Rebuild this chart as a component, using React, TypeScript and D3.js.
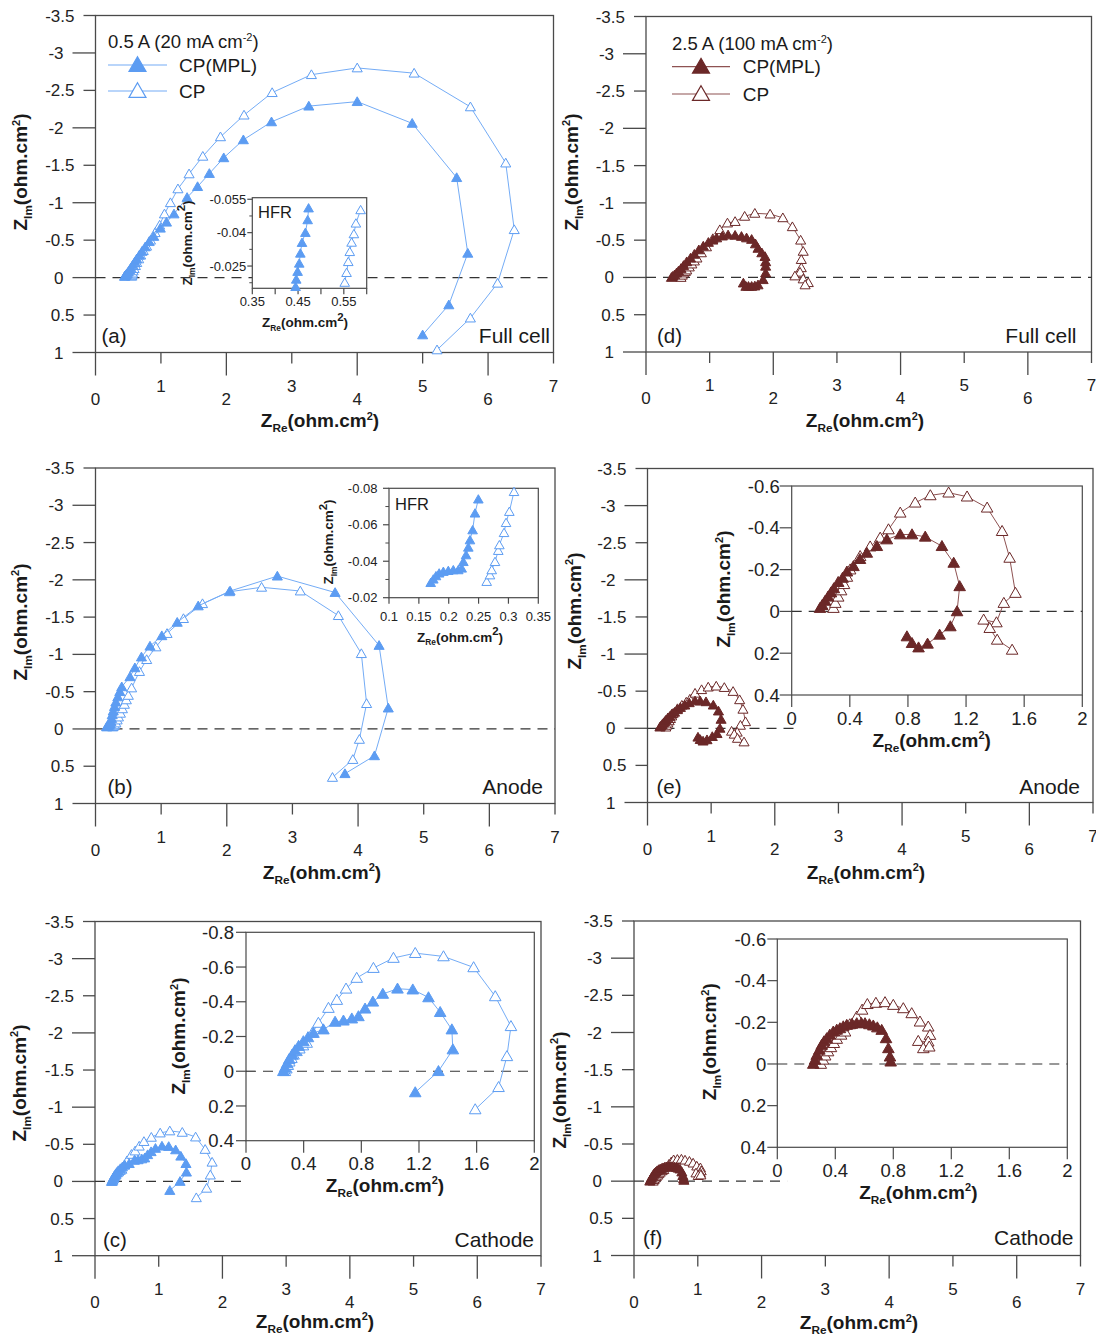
import React from 'react';
import * as d3 from 'd3';

type Pt = [number, number];

// Nyquist spectra, [Z_Re, Z_Im] in ohm·cm², ordered from high to low frequency.

// 0.5 A, full cell
const fullCell05MPL: Pt[] = [
  [0.445, -0.016], [0.45, -0.022], [0.46, -0.03], [0.47, -0.04], [0.485, -0.055], [0.5, -0.075],
  [0.52, -0.1], [0.54, -0.13], [0.57, -0.17], [0.6, -0.21], [0.63, -0.25], [0.67, -0.3],
  [0.71, -0.35], [0.76, -0.41], [0.82, -0.48], [0.89, -0.55], [0.99, -0.66], [1.085, -0.74],
  [1.2, -0.85], [1.4, -1.07], [1.56, -1.215], [1.74, -1.39], [1.96, -1.6], [2.26, -1.84],
  [2.69, -2.08], [3.26, -2.29], [4.0, -2.35], [4.84, -2.06], [5.52, -1.335], [5.69, -0.325],
  [5.4, 0.364], [5.0, 0.765],
];
const fullCell05CP: Pt[] = [
  [0.552, -0.018], [0.555, -0.03], [0.56, -0.045], [0.565, -0.06], [0.575, -0.09], [0.59, -0.12],
  [0.61, -0.16], [0.63, -0.2], [0.66, -0.25], [0.69, -0.3], [0.73, -0.36], [0.78, -0.42],
  [0.84, -0.5], [0.91, -0.6], [0.98, -0.7], [1.054, -0.85], [1.145, -1.0], [1.26, -1.185],
  [1.43, -1.385], [1.64, -1.62], [1.91, -1.88], [2.27, -2.17], [2.7, -2.47], [3.3, -2.71],
  [4.0, -2.8], [4.87, -2.73], [5.73, -2.28], [6.27, -1.53], [6.4, -0.64], [6.145, 0.075],
  [5.73, 0.54], [5.22, 0.965],
];
const hfrFull05MPL: Pt[] = [
  [0.4446, -0.0157], [0.446, -0.019], [0.449, -0.0225], [0.4526, -0.0262], [0.455, -0.0307],
  [0.4586, -0.0355], [0.466, -0.04], [0.471, -0.0457], [0.473, -0.051],
];
const hfrFull05CP: Pt[] = [
  [0.552, -0.0176], [0.556, -0.022], [0.5597, -0.0269], [0.563, -0.0314], [0.567, -0.0356],
  [0.572, -0.0394], [0.5764, -0.0442], [0.5867, -0.0502],
];

// 0.5 A, anode
const anode05MPL: Pt[] = [
  [0.17, -0.028], [0.175, -0.03], [0.19, -0.035], [0.21, -0.05], [0.225, -0.07], [0.235, -0.1],
  [0.245, -0.14], [0.255, -0.19], [0.27, -0.24], [0.29, -0.3], [0.31, -0.36], [0.34, -0.43],
  [0.37, -0.5], [0.4, -0.565], [0.525, -0.7], [0.6, -0.82], [0.7, -0.965], [0.83, -1.11],
  [1.01, -1.25], [1.245, -1.43], [1.565, -1.65], [2.05, -1.85], [2.77, -2.05], [3.65, -1.83],
  [4.32, -1.12], [4.46, -0.28], [4.25, 0.36], [3.8, 0.6],
];
const anode05CP: Pt[] = [
  [0.26, -0.028], [0.265, -0.03], [0.275, -0.04], [0.29, -0.055], [0.31, -0.08], [0.33, -0.12],
  [0.35, -0.16], [0.38, -0.21], [0.41, -0.27], [0.44, -0.33], [0.47, -0.39], [0.5, -0.45],
  [0.55, -0.55], [0.67, -0.77], [0.78, -0.93], [0.92, -1.1], [1.09, -1.28], [1.34, -1.48],
  [1.63, -1.68], [2.04, -1.84], [2.53, -1.9], [3.12, -1.85], [3.7, -1.52], [4.05, -1.01],
  [4.13, -0.34], [4.02, 0.14], [3.92, 0.41], [3.61, 0.65],
];
const hfrAnode05MPL: Pt[] = [
  [0.1698, -0.0282], [0.1742, -0.0301], [0.1787, -0.0319], [0.184, -0.0334], [0.191, -0.0343],
  [0.1993, -0.0348], [0.2077, -0.0352], [0.216, -0.0352], [0.2217, -0.0361], [0.2245, -0.0397],
  [0.229, -0.0434], [0.2328, -0.0476], [0.2356, -0.0516], [0.24, -0.0571], [0.244, -0.0663],
  [0.2496, -0.074],
];
const hfrAnode05CP: Pt[] = [
  [0.2636, -0.0288], [0.2691, -0.0324], [0.272, -0.0352], [0.2775, -0.0397], [0.283, -0.0458],
  [0.2848, -0.0489], [0.2926, -0.0556], [0.296, -0.0611], [0.3015, -0.0672], [0.3093, -0.0781],
];

// 0.5 A, cathode
const cathode05MPL: Pt[] = [
  [0.259, 0.0], [0.27, -0.02], [0.285, -0.045], [0.3, -0.07], [0.32, -0.095], [0.34, -0.12],
  [0.365, -0.145], [0.398, -0.172], [0.43, -0.195], [0.468, -0.22], [0.537, -0.24], [0.618, -0.284],
  [0.676, -0.291], [0.734, -0.303], [0.78, -0.316], [0.826, -0.36], [0.88, -0.4], [0.949, -0.445],
  [1.051, -0.475], [1.157, -0.47], [1.266, -0.425], [1.347, -0.34], [1.428, -0.24], [1.435, -0.125],
  [1.335, 0.0], [1.174, 0.122],
];
const cathode05CP: Pt[] = [
  [0.27, 0.0], [0.28, -0.015], [0.29, -0.035], [0.3, -0.055], [0.315, -0.075], [0.33, -0.095],
  [0.35, -0.115], [0.37, -0.13], [0.395, -0.148], [0.421, -0.163], [0.46, -0.22], [0.502, -0.278],
  [0.572, -0.364], [0.63, -0.41], [0.694, -0.475], [0.768, -0.537], [0.884, -0.594], [1.023, -0.652],
  [1.174, -0.68], [1.37, -0.661], [1.579, -0.598], [1.729, -0.431], [1.838, -0.259], [1.81, -0.086],
  [1.752, 0.092], [1.59, 0.22],
];

// 2.5 A, full cell
const fullCell25MPL: Pt[] = [
  [0.4, 0.0], [0.42, -0.015], [0.45, -0.035], [0.48, -0.06], [0.51, -0.085], [0.55, -0.12],
  [0.59, -0.16], [0.64, -0.21], [0.7, -0.26], [0.76, -0.31], [0.83, -0.37], [0.9, -0.42],
  [0.98, -0.47], [1.05, -0.5], [1.11, -0.53], [1.2, -0.555], [1.29, -0.57], [1.4, -0.565],
  [1.5, -0.55], [1.58, -0.53], [1.66, -0.51], [1.72, -0.45], [1.76, -0.39], [1.82, -0.33],
  [1.87, -0.28], [1.88, -0.21], [1.88, -0.15], [1.88, -0.06], [1.84, 0.03], [1.76, 0.1],
  [1.71, 0.115], [1.66, 0.12], [1.61, 0.12], [1.57, 0.12], [1.53, 0.075],
];
const fullCell25CP: Pt[] = [
  [0.55, 0.0], [0.57, -0.03], [0.59, -0.06], [0.62, -0.08], [0.64, -0.1], [0.68, -0.14],
  [0.72, -0.18], [0.76, -0.22], [0.8, -0.26], [0.87, -0.33], [0.95, -0.41], [1.05, -0.52],
  [1.16, -0.64], [1.28, -0.73], [1.4, -0.75], [1.55, -0.82], [1.71, -0.86], [1.95, -0.85],
  [2.15, -0.8], [2.3, -0.68], [2.43, -0.5], [2.47, -0.35], [2.44, -0.24], [2.44, -0.13],
  [2.42, -0.07], [2.34, -0.02], [2.47, 0.02], [2.55, 0.07], [2.5, 0.1],
];

// 2.5 A, anode
const anode25MPL: Pt[] = [
  [0.195, -0.016], [0.21, -0.03], [0.23, -0.05], [0.25, -0.07], [0.27, -0.09], [0.29, -0.11],
  [0.32, -0.14], [0.35, -0.16], [0.38, -0.19], [0.425, -0.216], [0.47, -0.25], [0.517, -0.28],
  [0.586, -0.312], [0.655, -0.344], [0.747, -0.368], [0.828, -0.368], [0.919, -0.357], [1.034, -0.312],
  [1.115, -0.232], [1.156, -0.12], [1.138, 0.0], [1.092, 0.072], [1.018, 0.112], [0.935, 0.155],
  [0.873, 0.173], [0.828, 0.152], [0.793, 0.12],
];
const anode25CP: Pt[] = [
  [0.287, -0.016], [0.3, -0.04], [0.32, -0.07], [0.34, -0.1], [0.36, -0.13], [0.38, -0.165],
  [0.402, -0.2], [0.471, -0.264], [0.54, -0.31], [0.609, -0.352], [0.666, -0.392], [0.747, -0.472],
  [0.85, -0.52], [0.954, -0.555], [1.08, -0.568], [1.207, -0.549], [1.345, -0.496], [1.448, -0.384],
  [1.5, -0.256], [1.54, -0.088], [1.46, -0.04], [1.409, 0.053], [1.321, 0.04], [1.363, 0.08],
  [1.414, 0.136], [1.517, 0.184],
];

// 2.5 A, cathode
const cathode25MPL: Pt[] = [
  [0.248, 0.0], [0.26, -0.02], [0.272, -0.043], [0.29, -0.068], [0.306, -0.091], [0.322, -0.108],
  [0.341, -0.123], [0.362, -0.14], [0.386, -0.155], [0.41, -0.164], [0.432, -0.171], [0.455, -0.18],
  [0.479, -0.187], [0.515, -0.192], [0.548, -0.195], [0.58, -0.196], [0.605, -0.195], [0.635, -0.19],
  [0.662, -0.184], [0.69, -0.175], [0.72, -0.163], [0.75, -0.123], [0.766, -0.075], [0.777, -0.035],
  [0.782, -0.011],
];
const cathode25CP: Pt[] = [
  [0.3, 0.0], [0.315, -0.02], [0.33, -0.04], [0.35, -0.06], [0.37, -0.08], [0.39, -0.1],
  [0.41, -0.12], [0.44, -0.14], [0.467, -0.155], [0.5, -0.19], [0.548, -0.227], [0.585, -0.26],
  [0.621, -0.287], [0.68, -0.293], [0.743, -0.296], [0.8, -0.283], [0.869, -0.267], [0.927, -0.243],
  [0.984, -0.203], [1.041, -0.179], [1.053, -0.139], [1.041, -0.107], [0.972, -0.11], [1.007, -0.075],
  [1.048, -0.083],
];

// Axis ticks
const mainXTicks = [0, 1, 2, 3, 4, 5, 6, 7];
const mainYTicks = [-3.5, -3, -2.5, -2, -1.5, -1, -0.5, 0, 0.5, 1];
const hfrFullXTicks = [0.35, 0.4, 0.45, 0.5, 0.55, 0.6];
const hfrFullXLabels = ['0.35', '', '0.45', '', '0.55', ''];
const hfrFullYTicks = [-0.055, -0.04, -0.025];
const hfrFullYLabels = ['-0.055', '-0.04', '-0.025'];
const hfrFullYMinor = [-0.0475, -0.0325, -0.0175];
const hfrAnodeXTicks = [0.1, 0.15, 0.2, 0.25, 0.3, 0.35];
const hfrAnodeXLabels = ['0.1', '0.15', '0.2', '0.25', '0.3', '0.35'];
const hfrAnodeYTicks = [-0.08, -0.06, -0.04, -0.02];
const hfrAnodeYLabels = ['-0.08', '-0.06', '-0.04', '-0.02'];
const hfrAnodeYMinor = [-0.07, -0.05, -0.03];
const zoomXTicks = [0, 0.4, 0.8, 1.2, 1.6, 2];
const zoomXLabels = ['0', '0.4', '0.8', '1.2', '1.6', '2'];
const zoomYTicks08 = [-0.8, -0.6, -0.4, -0.2, 0, 0.2, 0.4];
const zoomYLabels08 = ['-0.8', '-0.6', '-0.4', '-0.2', '0', '0.2', '0.4'];
const zoomYTicks06 = [-0.6, -0.4, -0.2, 0, 0.2, 0.4];
const zoomYLabels06 = ['-0.6', '-0.4', '-0.2', '0', '0.2', '0.4'];

const FONT = '"Liberation Sans", Arial, Helvetica, sans-serif';
const BLUE = { marker: '#5c9cf2', line: '#74acf6' };
const BROWN = { marker: '#6b2828', line: '#8e5252' };
const AXIS = '#4a4a4a';

type Frame = { x0: number; y0: number; x1: number; y1: number };
type Colors = { marker: string; line: string };

function Series({ data, x, y, color, filled, size }: {
  data: Pt[]; x: d3.ScaleLinear<number, number>; y: d3.ScaleLinear<number, number>;
  color: Colors; filled: boolean; size: number;
}) {
  const line = d3.line<Pt>().x((d) => x(d[0])).y((d) => y(d[1]));
  const sym = d3.symbol().type(d3.symbolTriangle).size(size)() as string;
  return (
    <g>
      <path d={line(data) ?? ''} fill="none" stroke={color.line} strokeWidth={1} />
      {data.map((d, i) => (
        <path key={i} d={sym} transform={`translate(${x(d[0])},${y(d[1]) + 1})`}
          fill={filled ? color.marker : '#fff'} stroke={color.marker} strokeWidth={1} />
      ))}
    </g>
  );
}

// "Z_sub(ohm.cm²)" axis title
function ZTitle({ x, y, sub, size, vertical, bigSup }: {
  x: number; y: number; sub: string; size: number; vertical?: boolean; bigSup?: boolean;
}) {
  const subSize = size * 0.62;
  const supSize = bigSup ? size * 0.85 : size * 0.58;
  const subDy = size * 0.27;
  const supDy = bigSup ? size * 0.45 : size * 0.4;
  const bx = vertical ? x + size * 0.36 : x;
  const by = vertical ? y : y + size * 0.36;
  return (
    <text x={bx} y={by} fontFamily={FONT} fontWeight="bold" fontSize={size} textAnchor="middle"
      fill="#1a1a1a" transform={vertical ? `rotate(-90 ${bx} ${by})` : undefined}>
      <tspan>Z</tspan>
      <tspan fontSize={subSize} dy={subDy}>{sub}</tspan>
      <tspan fontSize={size} dy={-subDy}>(ohm.cm</tspan>
      <tspan fontSize={supSize} dy={-supDy}>2</tspan>
      <tspan fontSize={size} dy={supDy}>)</tspan>
    </text>
  );
}

type InsetCfg = {
  frame: Frame; xDomain: [number, number]; yDomain: [number, number];
  xTicks: number[]; xLabels: string[]; yTicks: number[]; yLabels: string[]; yMinor?: number[];
  yTickLen: number; xTickLen: number; yLabelGap: number; xLabelDy: number;
  tickFont: number; titleFont: number; yTitle: [number, number]; xTitle: [number, number];
  bigSup?: boolean; zero?: boolean; hfr?: [number, number]; markerSize: number;
  mpl: Pt[]; cp: Pt[];
};

function Inset({ cfg, color }: { cfg: InsetCfg; color: Colors }) {
  const f = cfg.frame;
  const x = d3.scaleLinear().domain(cfg.xDomain).range([f.x0, f.x1]);
  const y = d3.scaleLinear().domain(cfg.yDomain).range([f.y0, f.y1]);
  return (
    <g>
      <rect x={f.x0} y={f.y0} width={f.x1 - f.x0} height={f.y1 - f.y0} fill="#fff" stroke={AXIS} strokeWidth={1.2} />
      {cfg.yTicks.map((v, i) => (
        <g key={'y' + i}>
          <line x1={f.x0 - cfg.yTickLen} x2={f.x0} y1={y(v)} y2={y(v)} stroke={AXIS} strokeWidth={1.2} />
          <text x={f.x0 - cfg.yLabelGap} y={y(v) + cfg.tickFont * 0.36} fontFamily={FONT} fontSize={cfg.tickFont}
            textAnchor="end" fill="#222">{cfg.yLabels[i]}</text>
        </g>
      ))}
      {(cfg.yMinor ?? []).map((v, i) => (
        <line key={'ym' + i} x1={f.x0 - cfg.yTickLen * 0.6} x2={f.x0} y1={y(v)} y2={y(v)} stroke={AXIS} strokeWidth={1} />
      ))}
      {cfg.xTicks.map((v, i) => (
        <g key={'x' + i}>
          <line x1={x(v)} x2={x(v)} y1={f.y1} y2={f.y1 + cfg.xTickLen} stroke={AXIS} strokeWidth={1.2} />
          <text x={x(v)} y={f.y1 + cfg.xLabelDy + cfg.tickFont * 0.36} fontFamily={FONT} fontSize={cfg.tickFont}
            textAnchor="middle" fill="#222">{cfg.xLabels[i]}</text>
        </g>
      ))}
      {cfg.zero && (
        <line x1={f.x0} x2={f.x1} y1={y(0)} y2={y(0)} stroke="#333" strokeWidth={1.2} strokeDasharray="10,7" />
      )}
      <Series data={cfg.cp} x={x} y={y} color={color} filled={false} size={cfg.markerSize} />
      <Series data={cfg.mpl} x={x} y={y} color={color} filled={true} size={cfg.markerSize} />
      {cfg.hfr && (
        <text x={cfg.hfr[0]} y={cfg.hfr[1] + 6} fontFamily={FONT} fontSize={16.5} fill="#1a1a1a">HFR</text>
      )}
      <ZTitle x={cfg.yTitle[0]} y={cfg.yTitle[1]} sub="Im" size={cfg.titleFont} vertical bigSup={cfg.bigSup} />
      <ZTitle x={cfg.xTitle[0]} y={cfg.xTitle[1]} sub="Re" size={cfg.titleFont} bigSup={cfg.bigSup} />
    </g>
  );
}

type LegendCfg = {
  x: number; y: number; text: string; rows: [number, number]; lineX: [number, number]; textX: number;
};

type PanelCfg = {
  frame: Frame; color: Colors; mpl: Pt[]; cp: Pt[]; tag: string; name: string;
  tagDx: number; nameDx: number; labelDy: number; zeroEnd: number;
  yTitle: [number, number]; xTitle: [number, number]; legend?: LegendCfg; inset?: InsetCfg;
};

function Legend({ cfg, color }: { cfg: LegendCfg; color: Colors }) {
  const sym = d3.symbol().type(d3.symbolTriangle).size(125)() as string;
  const mid = (cfg.lineX[0] + cfg.lineX[1]) / 2;
  return (
    <g fontFamily={FONT} fill="#1a1a1a">
      <text x={cfg.x} y={cfg.y + 6.5} fontSize={18.5}>
        <tspan>{cfg.text}</tspan>
        <tspan fontSize={11} dy={-7}>-2</tspan>
        <tspan fontSize={18.5} dy={7}>)</tspan>
      </text>
      {['CP(MPL)', 'CP'].map((t, i) => (
        <g key={t}>
          <line x1={cfg.lineX[0]} x2={cfg.lineX[1]} y1={cfg.rows[i]} y2={cfg.rows[i]} stroke={color.line} strokeWidth={1.2} />
          <path d={sym} transform={`translate(${mid},${cfg.rows[i] + 1.5})`} fill={i === 0 ? color.marker : '#fff'}
            stroke={color.marker} strokeWidth={1.2} />
          <text x={cfg.textX} y={cfg.rows[i] + 6.5} fontSize={19}>{t}</text>
        </g>
      ))}
    </g>
  );
}

function Panel({ cfg }: { cfg: PanelCfg }) {
  const f = cfg.frame;
  const x = d3.scaleLinear().domain([0, 7]).range([f.x0, f.x1]);
  const y = d3.scaleLinear().domain([-3.5, 1]).range([f.y0, f.y1]);
  return (
    <g>
      <rect x={f.x0} y={f.y0} width={f.x1 - f.x0} height={f.y1 - f.y0} fill="none" stroke={AXIS} strokeWidth={1.3} />
      {mainYTicks.map((v) => {
        const len = Number.isInteger(v) ? 23 : 12;
        return (
          <g key={'y' + v}>
            <line x1={f.x0 - len} x2={f.x0} y1={y(v)} y2={y(v)} stroke={AXIS} strokeWidth={1.3} />
            <text x={f.x0 - len - 9} y={y(v) + 6} fontFamily={FONT} fontSize={17} textAnchor="end" fill="#222">{String(v)}</text>
          </g>
        );
      })}
      {mainXTicks.map((v) => {
        const even = v % 2 === 0;
        return (
          <g key={'x' + v}>
            <line x1={x(v)} x2={x(v)} y1={f.y1} y2={f.y1 + (even ? 23 : 11)} stroke={AXIS} strokeWidth={1.3} />
            <text x={x(v)} y={f.y1 + (even ? 46 : 33) + 6} fontFamily={FONT} fontSize={17} textAnchor="middle" fill="#222">{String(v)}</text>
          </g>
        );
      })}
      <line x1={x(0)} x2={x(cfg.zeroEnd)} y1={y(0)} y2={y(0)} stroke="#333" strokeWidth={1.2} strokeDasharray="10,7" />
      <Series data={cfg.cp} x={x} y={y} color={cfg.color} filled={false} size={44} />
      <Series data={cfg.mpl} x={x} y={y} color={cfg.color} filled={true} size={44} />
      <text x={f.x0 + cfg.tagDx} y={f.y1 - cfg.labelDy + 7} fontFamily={FONT} fontSize={20.5} fill="#1a1a1a">{cfg.tag}</text>
      <text x={f.x1 - cfg.nameDx} y={f.y1 - cfg.labelDy + 7} fontFamily={FONT} fontSize={21} textAnchor="end" fill="#1a1a1a">{cfg.name}</text>
      {cfg.legend && <Legend cfg={cfg.legend} color={cfg.color} />}
      {cfg.inset && <Inset cfg={cfg.inset} color={cfg.color} />}
      <ZTitle x={cfg.yTitle[0]} y={cfg.yTitle[1]} sub="Im" size={19} vertical />
      <ZTitle x={cfg.xTitle[0]} y={cfg.xTitle[1]} sub="Re" size={19} />
    </g>
  );
}

const insetA: InsetCfg = {
  frame: { x0: 252.3, y0: 197.7, x1: 366.7, y1: 288.3 }, xDomain: [0.35, 0.6], yDomain: [-0.0557, -0.015],
  xTicks: hfrFullXTicks, xLabels: hfrFullXLabels, yTicks: hfrFullYTicks, yLabels: hfrFullYLabels, yMinor: hfrFullYMinor,
  yTickLen: 5, xTickLen: 6, yLabelGap: 6, xLabelDy: 13.4, tickFont: 13, titleFont: 13.5,
  yTitle: [186.7, 243], xTitle: [305, 322], bigSup: true, hfr: [258, 212], markerSize: 40,
  mpl: hfrFull05MPL, cp: hfrFull05CP,
};
const insetB: InsetCfg = {
  frame: { x0: 389, y0: 488.3, x1: 538.3, y1: 597.7 }, xDomain: [0.1, 0.35], yDomain: [-0.08, -0.02],
  xTicks: hfrAnodeXTicks, xLabels: hfrAnodeXLabels, yTicks: hfrAnodeYTicks, yLabels: hfrAnodeYLabels, yMinor: hfrAnodeYMinor,
  yTickLen: 6, xTickLen: 6, yLabelGap: 11.5, xLabelDy: 19, tickFont: 13, titleFont: 13.5,
  yTitle: [328, 542], xTitle: [460, 636.7], bigSup: true, hfr: [395, 504], markerSize: 40,
  mpl: hfrAnode05MPL, cp: hfrAnode05CP,
};
const insetC: InsetCfg = {
  frame: { x0: 246, y0: 932.3, x1: 534.3, y1: 1140.7 }, xDomain: [0, 2], yDomain: [-0.8, 0.4],
  xTicks: zoomXTicks, xLabels: zoomXLabels, yTicks: zoomYTicks08, yLabels: zoomYLabels08,
  yTickLen: 10, xTickLen: 12, yLabelGap: 12, xLabelDy: 22.6, tickFont: 18.5, titleFont: 19,
  yTitle: [178.3, 1036], xTitle: [385, 1185], zero: true, markerSize: 58,
  mpl: cathode05MPL, cp: cathode05CP,
};
const insetE: InsetCfg = {
  frame: { x0: 791.7, y0: 486, x1: 1082.3, y1: 695 }, xDomain: [0, 2], yDomain: [-0.6, 0.4],
  xTicks: zoomXTicks, xLabels: zoomXLabels, yTicks: zoomYTicks06, yLabels: zoomYLabels06,
  yTickLen: 12, xTickLen: 12, yLabelGap: 12, xLabelDy: 23, tickFont: 18.5, titleFont: 19,
  yTitle: [723.3, 589], xTitle: [931.7, 740], zero: true, markerSize: 58,
  mpl: anode25MPL, cp: anode25CP,
};
const insetF: InsetCfg = {
  frame: { x0: 777.3, y0: 939, x1: 1067.3, y1: 1147.3 }, xDomain: [0, 2], yDomain: [-0.6, 0.4],
  xTicks: zoomXTicks, xLabels: zoomXLabels, yTicks: zoomYTicks06, yLabels: zoomYLabels06,
  yTickLen: 10, xTickLen: 12, yLabelGap: 11, xLabelDy: 22.7, tickFont: 18.5, titleFont: 19,
  yTitle: [709.3, 1041.7], xTitle: [918.3, 1191.7], zero: true, markerSize: 58,
  mpl: cathode25MPL, cp: cathode25CP,
};

const panels: PanelCfg[] = [
  {
    frame: { x0: 95.5, y0: 15.5, x1: 553.5, y1: 352.5 }, color: BLUE, mpl: fullCell05MPL, cp: fullCell05CP,
    tag: '(a)', name: 'Full cell', tagDx: 6, nameDx: 3.5, labelDy: 16.5, zeroEnd: 7,
    yTitle: [20.5, 172], xTitle: [320, 420.5],
    legend: { x: 108, y: 41.7, text: '0.5 A (20 mA cm', rows: [65, 91], lineX: [108, 167], textX: 179 },
    inset: insetA,
  },
  {
    frame: { x0: 646, y0: 16.5, x1: 1091.5, y1: 352 }, color: BROWN, mpl: fullCell25MPL, cp: fullCell25CP,
    tag: '(d)', name: 'Full cell', tagDx: 11, nameDx: 15, labelDy: 16, zeroEnd: 7,
    yTitle: [571, 172], xTitle: [865, 420.5],
    legend: { x: 672, y: 43, text: '2.5 A (100 mA cm', rows: [66.7, 94], lineX: [672, 730], textX: 742.7 },
  },
  {
    frame: { x0: 95.5, y0: 468, x1: 555, y1: 803.5 }, color: BLUE, mpl: anode05MPL, cp: anode05CP,
    tag: '(b)', name: 'Anode', tagDx: 12, nameDx: 12, labelDy: 17, zeroEnd: 7,
    yTitle: [20, 622], xTitle: [322, 872], inset: insetB,
  },
  {
    frame: { x0: 647.5, y0: 468.5, x1: 1093, y1: 802.5 }, color: BROWN, mpl: anode25MPL, cp: anode25CP,
    tag: '(e)', name: 'Anode', tagDx: 9, nameDx: 13, labelDy: 16, zeroEnd: 2.4,
    yTitle: [574, 611], xTitle: [866, 872], inset: insetE,
  },
  {
    frame: { x0: 95, y0: 921.5, x1: 541, y1: 1255.7 }, color: BLUE, mpl: cathode05MPL, cp: cathode05CP,
    tag: '(c)', name: 'Cathode', tagDx: 8, nameDx: 7, labelDy: 16, zeroEnd: 2.4,
    yTitle: [19, 1083], xTitle: [315, 1321], inset: insetC,
  },
  {
    frame: { x0: 634, y0: 921, x1: 1080.5, y1: 1255.5 }, color: BROWN, mpl: cathode25MPL, cp: cathode25CP,
    tag: '(f)', name: 'Cathode', tagDx: 9, nameDx: 7, labelDy: 17.5, zeroEnd: 2.4,
    yTitle: [559, 1090], xTitle: [859, 1322.5], inset: insetF,
  },
];

export default function App() {
  return (
    <svg width={1096} height={1337} viewBox="0 0 1096 1337"
      style={{ position: 'absolute', left: 0, top: 0, background: '#fff' }}>
      <rect x={0} y={0} width={1096} height={1337} fill="#fff" />
      {panels.map((p, i) => <Panel key={i} cfg={p} />)}
    </svg>
  );
}
